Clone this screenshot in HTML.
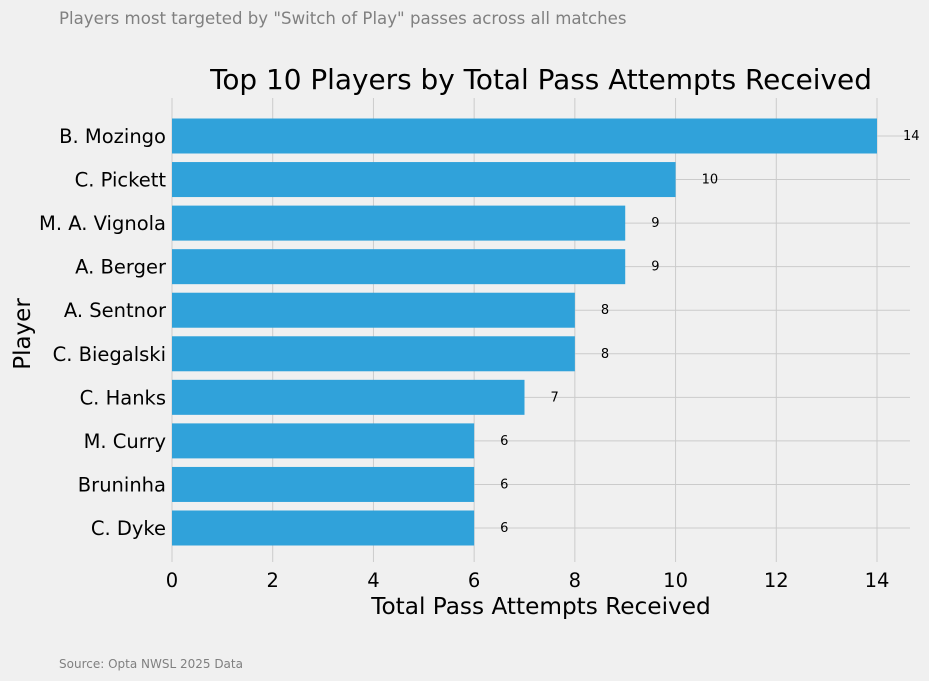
<!DOCTYPE html>
<html><head><meta charset="utf-8"><style>
body{margin:0;background:#f0f0f0;}
svg{display:block;font-family:"DejaVu Sans","Liberation Sans",sans-serif;}
</style></head><body>
<svg id="chart" width="929" height="681">
<rect width="929" height="681" fill="#f0f0f0"/>
<text x="59" y="24" font-size="16.6" fill="#808080">Players most targeted by "Switch of Play" passes across all matches</text>
<text x="541" y="89" font-size="27.9" fill="#000" text-anchor="middle">Top 10 Players by Total Pass Attempts Received</text>
<g id="grid"></g>
<g id="bars"></g>
<g id="labels"></g>
<text x="541" y="614" font-size="23.2" text-anchor="middle" fill="#000">Total Pass Attempts Received</text>
<text transform="translate(30,334) rotate(-90)" font-size="23" text-anchor="middle" fill="#000">Player</text>
<text x="59" y="668" font-size="12" fill="#808080">Source: Opta NWSL 2025 Data</text>
</svg>
<script>
const players=["B. Mozingo","C. Pickett","M. A. Vignola","A. Berger","A. Sentnor","C. Biegalski","C. Hanks","M. Curry","Bruninha","C. Dyke"];
const values=[14,10,9,9,8,8,7,6,6,6];
const xTicks=[0,2,4,6,8,10,12,14];
const NS="http://www.w3.org/2000/svg";
const x0=172,x1=877,plotTop=98,plotBot=562,plotRight=910;
const xs=v=>x0+(v/14)*(x1-x0);
const y0=136,y9=528;
const ys=i=>y0+i*(y9-y0)/(players.length-1);
const barH=35;
function mk(t,a,p){const e=document.createElementNS(NS,t);for(const k in a)e.setAttribute(k,a[k]);document.getElementById(p).appendChild(e);return e;}
xTicks.forEach(t=>{
 const l=mk('line',{x1:xs(t),x2:xs(t),y1:plotTop,y2:plotBot,stroke:'#cbcbcb','stroke-width':1},'grid');
 
 
 const tx=mk('text',{x:xs(t),y:587,'font-size':19.5,'text-anchor':'middle',fill:'#000'},'labels');
 tx.textContent=t;
 
 
});
players.forEach((p,i)=>{
 const y=ys(i);
 const g=mk('line',{x1:x0,x2:plotRight,y1:y,y2:y,stroke:'#cbcbcb','stroke-width':1},'grid');
 
 
 const r=mk('rect',{x:x0,y:y-barH/2,width:xs(values[i])-x0,height:barH,fill:'#30a2da'},'bars');
 
 
 const yl=mk('text',{x:166,y:y+7,'font-size':19.5,'text-anchor':'end',fill:'#000'},'labels');
 yl.textContent=p;
 
 
 const vl=mk('text',{x:xs(values[i])+26,y:y+4,'font-size':13,fill:'#000'},'labels');
 vl.textContent=values[i];
 
 
});
</script>
</body></html>
